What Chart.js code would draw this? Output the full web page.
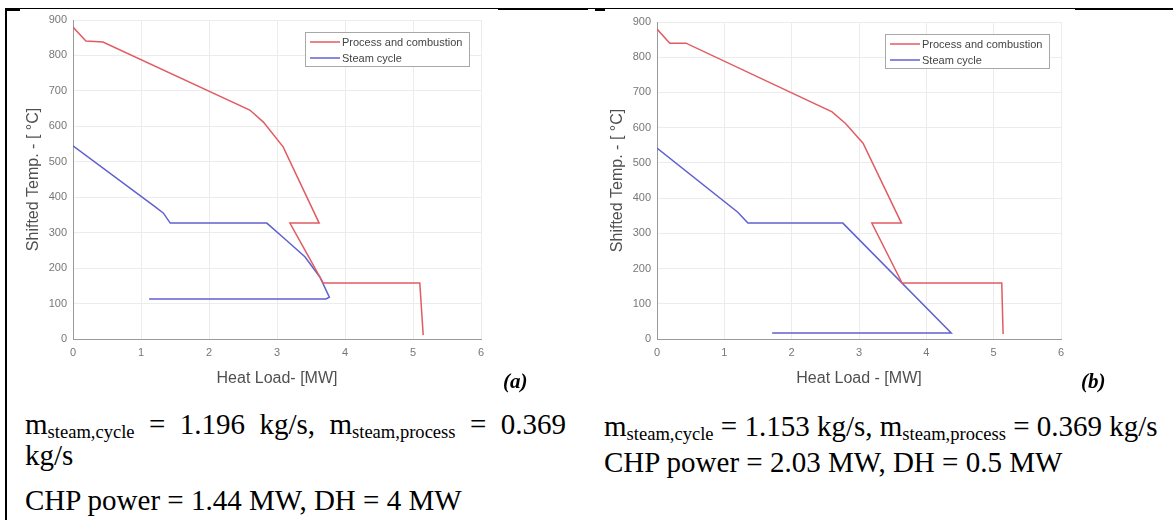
<!DOCTYPE html>
<html>
    <head>
        <script src="https://cdn.jsdelivr.net/npm/chart.js@4.4.0/dist/chart.umd.min.js"></script>
        <meta charset="utf-8">
        <title>Composite curves</title>
        <style>
            body {
                margin: 0;
                width: 1173px;
                height: 520px;
                overflow: hidden;
                background: #fff;
                position: relative;
            }

            .rule { position: absolute; background: #000; }

            .cell { position: absolute; }

            .tag {
                position: absolute;
                font-family: "Liberation Serif", serif;
                font-weight: bold;
                font-style: italic;
                font-size: 21px;
                line-height: 22px;
            }

            .txt {
                position: absolute;
                font-family: "Liberation Serif", serif;
                font-size: 29px;
                line-height: 36px;
                white-space: nowrap;
                color: #000;
            }

            .txt sub {
                font-size: 0.64em;
                line-height: 0;
                vertical-align: -0.2em;
            }

            .just {
                text-align: justify;
                text-align-last: justify;
                white-space: normal;
            }
        </style>
    </head>

    <body>
        <div class="rule" style="left:6px; top:8px; width:1167px; height:1px;"></div>
        <div class="rule" style="left:6px; top:8px; width:14px; height:3px;"></div>
        <div class="rule" style="left:498px; top:8px; width:90px; height:2px;"></div>
        <div class="rule" style="left:595px; top:9px; width:10px; height:2px;"></div>
        <div class="rule" style="left:1075px; top:8px; width:98px; height:2px;"></div>
        <div class="rule" style="left:5px; top:8px; width:2px; height:512px;"></div>

        <div class="cell" style="left:0px; top:0px;">
            <canvas id="chartA" width="560" height="400"></canvas>
        </div>
        <div class="cell" style="left:584px; top:0px;">
            <canvas id="chartB" width="560" height="400"></canvas>
        </div>

        <div class="tag" style="left:503px; top:370px;">(a)</div>
        <div class="tag" style="left:1081px; top:370px;">(b)</div>

        <div class="txt just" style="left:25px; top:406px; width:541px;">m<sub>steam,cycle</sub> = 1.196 kg/s, m<sub>steam,process</sub> = 0.369</div>
        <div class="txt" style="left:25px; top:437px;">kg/s</div>
        <div class="txt" style="left:25px; top:482px;">CHP power = 1.44 MW, DH = 4 MW</div>

        <div class="txt" style="left:604px; top:408px;">m<sub>steam,cycle</sub> = 1.153 kg/s, m<sub>steam,process</sub> = 0.369 kg/s</div>
        <div class="txt" style="left:604px; top:444px;">CHP power = 2.03 MW, DH = 0.5 MW</div>

        <script>
            // (a) heat load [MW] / shifted temperature [C]
            const heatA_process = [0, 0.19, 0.44, 2.6, 2.8, 3.09, 3.62, 3.19, 3.44, 3.68, 5.1, 5.15];
            const tempA_process = [880, 841, 838, 646, 612, 542, 327, 327, 241, 158, 158, 11];
            const heatA_steam = [0, 1.2, 1.33, 1.43, 2.85, 3.1, 3.41, 3.63, 3.77, 3.72, 1.12];
            const tempA_steam = [545, 374, 355, 327, 327, 285, 232, 175, 118, 113, 113];

            // (b)
            const heatB_process = [0, 0.19, 0.43, 2.6, 2.8, 3.06, 3.63, 3.19, 3.64, 5.12, 5.14];
            const tempB_process = [880, 840, 840, 645, 612, 556, 329, 329, 159, 159, 14];
            const heatB_steam = [0, 1.2, 1.35, 2.76, 4.37, 1.71];
            const tempB_steam = [542, 360, 329, 329, 17, 17];

            const seriesNames = ["Process and combustion", "Steam cycle"];
            const xTicks = [0, 1, 2, 3, 4, 5, 6];
            const yTicks = [0, 100, 200, 300, 400, 500, 600, 700, 800, 900];

            const redLine = "rgb(225,92,98)";
            const blueLine = "rgb(96,96,208)";

            function points(xs, ys) {
                var pts = [];
                for (var i = 0; i < xs.length; i++) {
                    pts.push({x: xs[i], y: ys[i]});
                }
                return pts;
            }

            // legend box drawn inside the plot, top right
            const boxLegend = {
                id: "boxLegend",
                afterDraw(chart) {
                    var ctx = chart.ctx;
                    var a = chart.chartArea;
                    var w = 164, h = 34;
                    var x = Math.round(a.right - 12 - w), y = Math.round(a.top + 12);
                    ctx.save();
                    ctx.fillStyle = "#fff";
                    ctx.fillRect(x, y, w, h);
                    ctx.strokeStyle = "#a8a8a8";
                    ctx.lineWidth = 1;
                    ctx.strokeRect(x + 0.5, y + 0.5, w, h);
                    ctx.font = '11px "Liberation Sans"';
                    ctx.textBaseline = "middle";
                    chart.data.datasets.forEach(function(ds, i) {
                        var ly = y + 10 + i * 16;
                        ctx.strokeStyle = ds.borderColor;
                        ctx.lineWidth = 1.5;
                        ctx.beginPath();
                        ctx.moveTo(x + 5, ly);
                        ctx.lineTo(x + 35, ly);
                        ctx.stroke();
                        ctx.fillStyle = "#444";
                        ctx.fillText(ds.label, x + 37, ly + 0.5);
                    });
                    ctx.restore();
                }
            };

            function makeChart(id, hp, tp, hs, ts, padTop, padRight, xTitle) {
                var ctx = document.getElementById(id).getContext("2d");
                return new Chart(ctx, {
                    type: "scatter",
                    data: {
                        datasets: [
                            {label: seriesNames[0], data: points(hp, tp), showLine: true, borderColor: redLine, backgroundColor: redLine, borderWidth: 1.5, pointRadius: 0, tension: 0},
                            {label: seriesNames[1], data: points(hs, ts), showLine: true, borderColor: blueLine, backgroundColor: blueLine, borderWidth: 1.5, pointRadius: 0, tension: 0}
                        ]
                    },
                    options: {
                        responsive: false,
                        animation: false,
                        devicePixelRatio: 1,
                        layout: {padding: {top: padTop, right: padRight, left: 0, bottom: 0}},
                        plugins: {legend: {display: false}, tooltip: {enabled: false}},
                        scales: {
                            x: {
                                type: "linear",
                                min: xTicks[0],
                                max: xTicks[xTicks.length - 1],
                                afterBuildTicks: function(s) { s.ticks = xTicks.map(function(v) { return {value: v}; }); },
                                afterFit: function(s) { s.height = 61; },
                                grid: {color: "#ececec", drawTicks: false},
                                border: {color: "#9a9a9a"},
                                ticks: {padding: 7, color: "#777", font: {family: "Liberation Sans", size: 11}},
                                title: {display: true, text: xTitle, color: "#505050", padding: {bottom: 12}, font: {family: "Liberation Sans", size: 16}}
                            },
                            y: {
                                type: "linear",
                                min: yTicks[0],
                                max: yTicks[yTicks.length - 1],
                                afterBuildTicks: function(s) { s.ticks = yTicks.map(function(v) { return {value: v}; }); },
                                afterFit: function(s) { s.width = 73; },
                                grid: {color: "#ececec", drawTicks: false},
                                border: {color: "#9a9a9a"},
                                ticks: {padding: 6, color: "#777", font: {family: "Liberation Sans", size: 11}},
                                title: {display: true, text: "Shifted Temp. - [ \u00B0C]", color: "#505050", padding: {top: 24}, font: {family: "Liberation Sans", size: 16}}
                            }
                        }
                    },
                    plugins: [boxLegend]
                });
            }

            makeChart("chartA", heatA_process, tempA_process, heatA_steam, tempA_steam, 20, 79, "Heat Load- [MW]");
            makeChart("chartB", heatB_process, tempB_process, heatB_steam, tempB_steam, 22, 83, "Heat Load - [MW]");
        </script>
    </body>
</html>
